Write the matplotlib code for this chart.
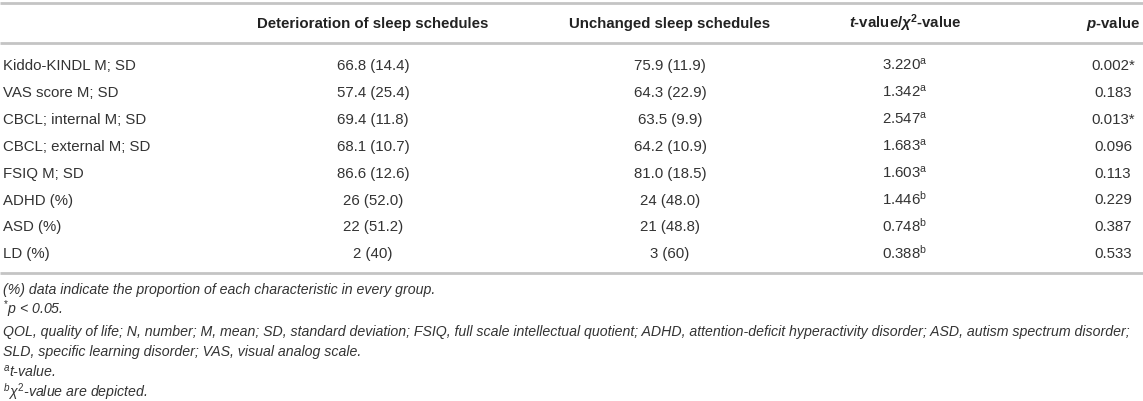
import matplotlib
matplotlib.use("Agg")
import matplotlib.pyplot as plt

plt.rcParams['font.family'] = ['Liberation Sans', 'DejaVu Sans']
plt.rcParams['mathtext.fontset'] = 'custom'
plt.rcParams['mathtext.rm'] = 'Liberation Sans'
plt.rcParams['mathtext.it'] = 'Liberation Sans:italic'
plt.rcParams['mathtext.bf'] = 'Liberation Sans:bold'
plt.rcParams['mathtext.bfit'] = 'Liberation Sans:italic:bold'

headers = ["", "Deterioration of sleep schedules", "Unchanged sleep schedules",
           r"$\mathbfit{t}$-value/$\mathbfit{\chi}^{\mathbf{2}}$-value", r"$\mathbfit{p}$-value"]
row_labels = ["Kiddo-KINDL M; SD", "VAS score M; SD", "CBCL; internal M; SD",
              "CBCL; external M; SD", "FSIQ M; SD", "ADHD (%)", "ASD (%)", "LD (%)"]
deterioration = ["66.8 (14.4)", "57.4 (25.4)", "69.4 (11.8)", "68.1 (10.7)",
                 "86.6 (12.6)", "26 (52.0)", "22 (51.2)", "2 (40)"]
unchanged = ["75.9 (11.9)", "64.3 (22.9)", "63.5 (9.9)", "64.2 (10.9)",
             "81.0 (18.5)", "24 (48.0)", "21 (48.8)", "3 (60)"]
t_chi = ["3.220$^{\\mathrm{a}}$", "1.342$^{\\mathrm{a}}$", "2.547$^{\\mathrm{a}}$",
         "1.683$^{\\mathrm{a}}$", "1.603$^{\\mathrm{a}}$", "1.446$^{\\mathrm{b}}$",
         "0.748$^{\\mathrm{b}}$", "0.388$^{\\mathrm{b}}$"]
p_values = ["0.002*", "0.183", "0.013*", "0.096", "0.113", "0.229", "0.387", "0.533"]
footnotes = [
    "(%) data indicate the proportion of each characteristic in every group.",
    r"$^{*}$$p$ < 0.05.",
    "QOL, quality of life; N, number; M, mean; SD, standard deviation; FSIQ, full scale intellectual quotient; ADHD, attention-deficit hyperactivity disorder; ASD, autism spectrum disorder;",
    "SLD, specific learning disorder; VAS, visual analog scale.",
    r"$^{a}$t-value.",
    r"$^{b}\chi^{2}$-value are depicted.",
]

W, H = 1143, 401
fig = plt.figure(figsize=(W / 100, H / 100), dpi=100)
ax = fig.add_axes([0, 0, 1, 1])
ax.set_xlim(0, W)
ax.set_ylim(H, 0)
ax.axis('off')

txt = '#333333'
line_c = '#c4c4c4'
fs = 10.8
bl = 5  # baseline offset from visual centre

col_x = [3, 373, 670, 905, 1113]
header_y = 23
row_y0, row_dy = 65, 26.9
for y in (3, 43, 273):
    ax.plot([0, W], [y, y], color=line_c, lw=2.0, solid_capstyle='butt')

for j, h in enumerate(headers):
    if not h:
        continue
    ax.text(col_x[j], header_y + bl, h, ha='center', va='baseline', fontsize=fs,
            fontweight='bold', color='#222222')

for i, lab in enumerate(row_labels):
    y = row_y0 + i * row_dy + bl
    ax.text(col_x[0], y, lab, ha='left', va='baseline', fontsize=fs, color=txt)
    ax.text(col_x[1], y, deterioration[i], ha='center', va='baseline', fontsize=fs, color=txt)
    ax.text(col_x[2], y, unchanged[i], ha='center', va='baseline', fontsize=fs, color=txt)
    ax.text(col_x[3], y, t_chi[i], ha='center', va='baseline', fontsize=fs, color=txt)
    ax.text(col_x[4], y, p_values[i], ha='center', va='baseline', fontsize=fs, color=txt)

foot_y = [289, 309, 331, 351, 372, 392]
for y, f in zip(foot_y, footnotes):
    ax.text(3, y + 5, f, ha='left', va='baseline', fontsize=10.2, style='italic', color=txt)

fig.savefig("out.png", dpi=100)
